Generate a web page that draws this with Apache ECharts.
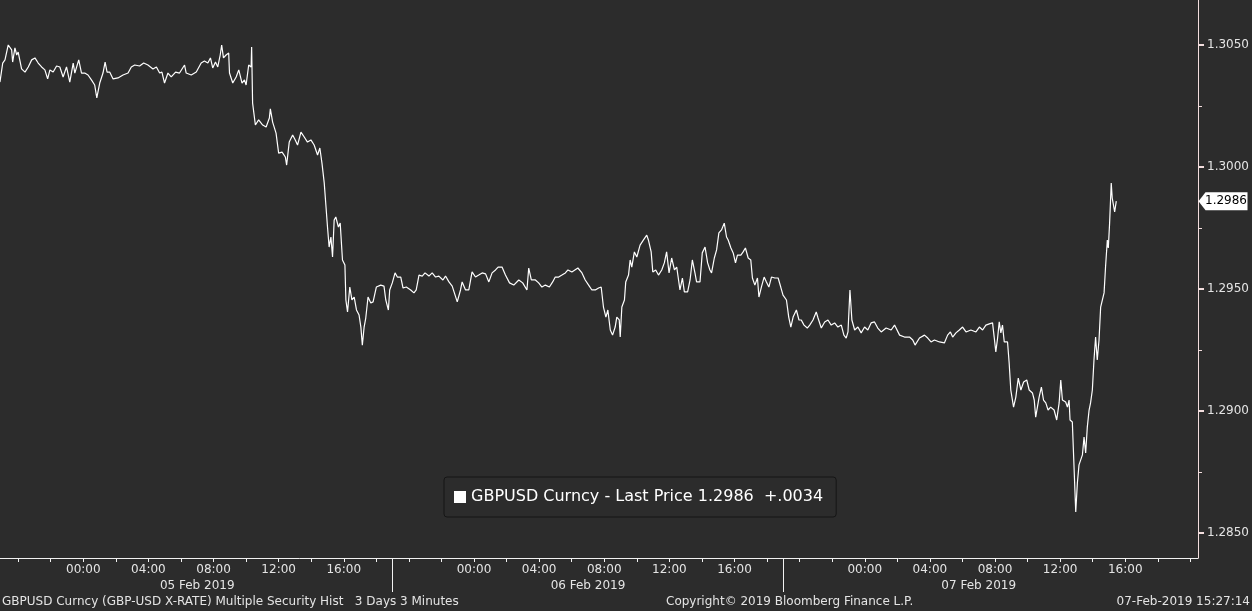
<!DOCTYPE html>
<html><head><meta charset="utf-8">
<script src="https://cdn.jsdelivr.net/npm/echarts@6/dist/echarts.min.js"></script>
<style>html,body{margin:0;padding:0;background:#2c2c2c;overflow:hidden}#c{width:1252px;height:611px}</style>
</head><body><div id="c"></div>
<script>
// hours relative to 05 Feb 2019 00:00, GBPUSD last price (3-minute bars, traced)
const feb05 = [
[-5.12,1.30348],[-4.95,1.30426],[-4.81,1.30439],[-4.61,1.30500],[-4.40,1.30480],[-4.34,1.30430],[-4.20,1.30488],[-4.09,1.30459],[-4.00,1.30471],[-3.89,1.30471],
[-3.79,1.30402],[-3.58,1.30389],[-3.38,1.30410],[-3.17,1.30439],[-2.97,1.30447],[-2.77,1.30426],[-2.56,1.30410],[-2.36,1.30398],[-2.19,1.30361],[-2.05,1.30398],
[-1.85,1.30389],[-1.64,1.30414],[-1.44,1.30410],[-1.24,1.30369],[-1.03,1.30410],[-0.83,1.30348],[-0.62,1.30426],[-0.52,1.30385],[-0.28,1.30439],[-0.11,1.30385],
[0.09,1.30385],[0.29,1.30377],[0.50,1.30357],[0.70,1.30336],[0.83,1.30283],[1.01,1.30344],[1.21,1.30385],[1.34,1.30430],[1.46,1.30389],[1.62,1.30389],
[1.83,1.30361],[2.13,1.30365],[2.44,1.30377],[2.75,1.30385],[2.95,1.30410],[3.16,1.30418],[3.46,1.30414],[3.71,1.30426],[3.97,1.30418],[4.28,1.30402],
[4.49,1.30410],[4.69,1.30385],[4.83,1.30389],[4.99,1.30344],[5.20,1.30385],[5.40,1.30369],[5.67,1.30389],[5.91,1.30385],[6.22,1.30418],[6.32,1.30385],
[6.63,1.30377],[6.94,1.30389],[7.24,1.30426],[7.44,1.30434],[7.65,1.30426],[7.81,1.30447],[7.95,1.30406],[8.12,1.30430],[8.26,1.30410],[8.41,1.30459],
[8.50,1.30500],[8.61,1.30447],[8.77,1.30459],[8.93,1.30467],[8.98,1.30385],[9.18,1.30344],[9.39,1.30369],[9.55,1.30398],[9.75,1.30344],[9.90,1.30357],
[10.00,1.30336],[10.16,1.30418],[10.31,1.30410],[10.34,1.30492],[10.40,1.30262],[10.57,1.30172],[10.77,1.30193],[11.02,1.30172],[11.23,1.30164],[11.43,1.30201],
[11.49,1.30238],[11.63,1.30184],[11.84,1.30139],[12.00,1.30057],[12.21,1.30061],[12.41,1.30041],[12.49,1.30008],[12.65,1.30102],[12.86,1.30131],[13.02,1.30111],
[13.16,1.30090],[13.37,1.30143],[13.57,1.30123],[13.77,1.30102],[13.98,1.30111],[14.18,1.30090],[14.39,1.30049],[14.53,1.30078],[14.66,1.30016],[14.80,1.29934],
[14.90,1.29844],[15.00,1.29754],[15.10,1.29672],[15.21,1.29713],[15.31,1.29631],[15.41,1.29783],[15.51,1.29795],[15.67,1.29754],[15.78,1.29770],[15.92,1.29619],
[16.07,1.29598],[16.13,1.29455],[16.23,1.29406],[16.37,1.29508],[16.50,1.29455],[16.64,1.29467],[16.78,1.29414],[16.94,1.29393],[17.05,1.29344],[17.14,1.29270],
[17.25,1.29344],[17.35,1.29381],[17.49,1.29467],[17.66,1.29443],[17.80,1.29447],[18.00,1.29508],[18.27,1.29516],[18.47,1.29512],[18.58,1.29455],[18.74,1.29414],
[18.82,1.29496]
];
const feb06 = [
[18.98,1.29525],[19.15,1.29566],[19.29,1.29549],[19.50,1.29549],[19.64,1.29504],[19.84,1.29508],[20.11,1.29496],[20.31,1.29484],[20.45,1.29496],[20.62,1.29557],
[20.82,1.29553],[20.99,1.29566],[21.23,1.29553],[21.43,1.29566],[21.64,1.29549],[21.84,1.29553],[22.09,1.29537],[22.25,1.29553],[22.46,1.29529],[22.66,1.29512],
[22.97,1.29447],[23.17,1.29496],[23.27,1.29529],[23.48,1.29496],[23.68,1.29496],[23.88,1.29570],[24.09,1.29549],[24.29,1.29557],[24.50,1.29566],[24.71,1.29562],
[24.91,1.29529],[25.11,1.29566],[25.32,1.29578],[25.48,1.29590],[25.72,1.29590],[25.93,1.29557],[26.18,1.29525],[26.44,1.29516],[26.75,1.29537],[26.99,1.29525],
[27.25,1.29496],[27.36,1.29586],[27.52,1.29537],[27.77,1.29537],[27.97,1.29525],[28.17,1.29508],[28.38,1.29516],[28.63,1.29508],[28.83,1.29529],[28.99,1.29549],
[29.20,1.29549],[29.40,1.29557],[29.61,1.29566],[29.77,1.29578],[30.01,1.29570],[30.38,1.29586],[30.63,1.29566],[30.83,1.29537],[31.04,1.29516],[31.24,1.29496],
[31.45,1.29496],[31.65,1.29504],[31.81,1.29508],[31.95,1.29426],[32.10,1.29385],[32.22,1.29414],[32.37,1.29332],[32.51,1.29311],[32.67,1.29344],[32.77,1.29385],
[32.92,1.29373],[32.98,1.29303],[33.08,1.29426],[33.24,1.29455],[33.32,1.29529],[33.49,1.29557],[33.59,1.29619],[33.69,1.29590],[33.85,1.29652],[34.00,1.29631],
[34.20,1.29680],[34.41,1.29701],[34.61,1.29721],[34.71,1.29701],[34.88,1.29652],[34.98,1.29570],[35.16,1.29578],[35.33,1.29557],[35.53,1.29578],[35.69,1.29607],
[35.83,1.29652],[35.98,1.29566],[36.14,1.29627],[36.31,1.29578],[36.45,1.29590],[36.65,1.29496],[36.80,1.29545],[36.92,1.29488],[37.12,1.29488],[37.27,1.29537],
[37.41,1.29619],[37.57,1.29566],[37.67,1.29529],[37.88,1.29529],[38.02,1.29648],[38.19,1.29672],[38.35,1.29607],[38.49,1.29578],[38.59,1.29566],[38.76,1.29627],
[38.90,1.29660],[39.04,1.29730],[39.20,1.29742],[39.37,1.29770],[39.51,1.29713],[39.61,1.29701],[39.78,1.29668],[39.92,1.29648],[40.06,1.29607],[40.18,1.29639],
[40.39,1.29639],[40.53,1.29652],[40.67,1.29668],[40.84,1.29627],[41.00,1.29619],[41.10,1.29545],[41.25,1.29516],[41.41,1.29545],[41.50,1.29467],[41.65,1.29508],
[41.82,1.29549],[41.96,1.29529],[42.11,1.29508],[42.27,1.29549],[42.48,1.29545],[42.68,1.29545],[42.84,1.29508],[42.98,1.29475]
];
const feb07 = [
[43.19,1.29455],[43.33,1.29385],[43.46,1.29344],[43.60,1.29385],[43.80,1.29414],[43.96,1.29373],[44.10,1.29373],[44.27,1.29352],[44.47,1.29340],[44.62,1.29352],
[44.82,1.29373],[45.02,1.29406],[45.13,1.29381],[45.33,1.29340],[45.54,1.29365],[45.74,1.29373],[45.94,1.29352],[46.15,1.29361],[46.35,1.29344],[46.56,1.29352],
[46.72,1.29311],[46.86,1.29299],[46.97,1.29324],[47.09,1.29496],[47.21,1.29373],[47.38,1.29332],[47.58,1.29344],[47.78,1.29320],[47.99,1.29344],[48.19,1.29332],
[48.39,1.29361],[48.60,1.29365],[48.80,1.29340],[49.01,1.29324],[49.31,1.29340],[49.62,1.29332],[49.83,1.29352],[50.14,1.29311],[50.44,1.29303],[50.75,1.29303],
[50.95,1.29291],[51.09,1.29270],[51.36,1.29299],[51.67,1.29311],[51.87,1.29299],[52.07,1.29283],[52.28,1.29291],[52.59,1.29283],[52.89,1.29279],[53.09,1.29311],
[53.26,1.29324],[53.40,1.29303],[53.60,1.29320],[53.81,1.29332],[54.01,1.29344],[54.22,1.29324],[54.52,1.29332],[54.83,1.29324],[55.04,1.29344],[55.24,1.29332],
[55.44,1.29352],[55.65,1.29357],[55.85,1.29361],[55.95,1.29303],[56.05,1.29242],[56.16,1.29299],[56.26,1.29365],[56.36,1.29320],[56.46,1.29352],[56.57,1.29283],
[56.77,1.29283],[56.87,1.29197],[56.97,1.29086],[57.14,1.29016],[57.28,1.29057],[57.43,1.29135],[57.59,1.29086],[57.76,1.29119],[57.95,1.29127],[58.10,1.29086],
[58.30,1.29074],[58.41,1.29045],[58.50,1.28975],[58.71,1.29057],[58.85,1.29098],[58.98,1.29045],[59.12,1.29033],[59.26,1.29004],[59.42,1.29016],[59.63,1.29004],
[59.79,1.28963],[59.94,1.29033],[60.04,1.29127],[60.14,1.29045],[60.34,1.29037],[60.45,1.29016],[60.55,1.29045],[60.61,1.28963],[60.75,1.28955],[60.86,1.28951],
[60.96,1.28586],[61.06,1.28705],[61.16,1.28779],[61.26,1.28787],[61.37,1.28820],[61.47,1.28893],[61.57,1.28828],[61.67,1.28934],[61.78,1.29004],[61.87,1.29033],
[61.98,1.29086],[62.08,1.29209],[62.18,1.29303],[62.28,1.29209],[62.39,1.29291],[62.49,1.29426],[62.59,1.29434],[62.70,1.29484],[62.79,1.29590],[62.90,1.29701],
[62.96,1.29668],[63.04,1.29770],[63.14,1.29934],[63.20,1.29873],[63.31,1.29865],[63.35,1.29816],[63.45,1.29860]
];
const seriesName = 'GBPUSD Curncy';
const lastPrice = 1.2986;
const changeText = '+.0034';
const priceTicks = [1.2850, 1.2900, 1.2950, 1.3000, 1.3050];
const priceMinorTicks = [1.2850, 1.2875, 1.2900, 1.2925, 1.2950, 1.2975, 1.3000, 1.3025, 1.3050];
const hourTicks = [-4,-2,0,2,4,6,8,10,12,14,16,18,20,22,24,26,28,30,32,34,36,38,40,42,44,46,48,50,52,54,56,58,60,62,64,66,68];
const hourLabels = [0,4,8,12,16,24,28,32,36,40,48,52,56,60,64];
const dayLabels = ['05 Feb 2019', '06 Feb 2019', '07 Feb 2019'];
const dayLabelHours = [7, 31, 55];
const daySeparatorHours = [19, 43];
const footerLeft = 'GBPUSD Curncy (GBP-USD X-RATE) Multiple Security Hist   3 Days 3 Minutes';
const footerCenter = 'Copyright\u00a9 2019 Bloomberg Finance L.P.';
const footerRight = '07-Feb-2019 15:27:14';

const X_MIN = -5.116, X_MAX = 68.47;
const Y_MIN = 1.283975, Y_MAX = 1.306844;
const FONT = 'DejaVu Sans';
const TXT = '#e4e4e4';

const data = feb05.concat(feb06, feb07);
const chart = echarts.init(document.getElementById('c'), null, {renderer: 'canvas'});
const hh = v => { const h = ((Math.round(v) % 24) + 24) % 24; return (h < 10 ? '0' : '') + h + ':00'; };

chart.setOption({
  backgroundColor: '#2c2c2c',
  animation: false,
  grid: {left: 0, right: 51, top: 0, bottom: 53, containLabel: false},
  title: [
    {text: footerLeft, left: 2, top: 596, padding: 0, textStyle: {fontFamily: FONT, fontSize: 12, fontWeight: 'normal', color: TXT}},
    {text: footerCenter, left: 666, top: 596, padding: 0, textStyle: {fontFamily: FONT, fontSize: 12, fontWeight: 'normal', color: TXT}},
    {text: footerRight, right: 2, top: 596, padding: 0, textStyle: {fontFamily: FONT, fontSize: 12, fontWeight: 'normal', color: TXT}}
  ],
  legend: {
    left: 444, top: 477, data: [seriesName], icon: 'rect', itemWidth: 12, itemHeight: 12,
    selectedMode: false, padding: [12, 13, 12, 10],
    backgroundColor: '#2c2c2c', borderColor: '#151515', borderWidth: 1, borderRadius: 3,
    formatter: n => n + ' - Last Price ' + lastPrice.toFixed(4) + '  ' + changeText,
    textStyle: {fontFamily: FONT, fontSize: 16, color: '#ffffff'}
  },
  xAxis: [
    {type: 'value', min: X_MIN, max: X_MAX, position: 'bottom',
     axisLine: {show: true, onZero: false, lineStyle: {color: '#f2f2f2', width: 1}},
     axisTick: {show: true, customValues: hourTicks, length: 4, lineStyle: {color: '#f2f2f2'}},
     axisLabel: {show: true, customValues: hourLabels, formatter: hh, margin: 6, color: TXT, fontFamily: FONT, fontSize: 12},
     splitLine: {show: false}},
    {type: 'value', min: X_MIN, max: X_MAX, position: 'bottom',
     axisLine: {show: false, onZero: false},
     axisTick: {show: true, customValues: daySeparatorHours, length: 34, lineStyle: {color: '#f2f2f2'}},
     axisLabel: {show: true, customValues: dayLabelHours, formatter: v => dayLabels[dayLabelHours.indexOf(Math.round(v))], margin: 22, color: TXT, fontFamily: FONT, fontSize: 12},
     splitLine: {show: false}}
  ],
  yAxis: [
    {type: 'value', min: Y_MIN, max: Y_MAX, position: 'right',
     axisLine: {show: true, onZero: false, lineStyle: {color: '#f3dede', width: 1}},
     axisTick: {show: true, customValues: priceMinorTicks, length: 4, lineStyle: {color: '#f3dede'}},
     axisLabel: {show: false}, splitLine: {show: false}},
    {type: 'value', min: Y_MIN, max: Y_MAX, position: 'right',
     axisLine: {show: false, onZero: false},
     axisTick: {show: true, customValues: priceTicks, length: 6, lineStyle: {color: '#f3dede', width: 2}},
     axisLabel: {show: true, customValues: priceTicks, formatter: v => v.toFixed(4), margin: 9, color: TXT, fontFamily: FONT, fontSize: 12},
     splitLine: {show: false}}
  ],
  series: [{
    name: seriesName, type: 'line', xAxisIndex: 0, yAxisIndex: 0, data: data,
    showSymbol: false, symbol: 'none', color: '#ffffff',
    lineStyle: {color: '#ffffff', width: 1.2},
    markPoint: {
      silent: true, animation: false,
      symbol: 'path://M0,9 L7,0 L49,0 L49,18 L7,18 Z', symbolSize: [49, 18], symbolOffset: [25, 0],
      itemStyle: {color: '#ffffff'},
      label: {show: true, position: 'inside', offset: [3, 0], color: '#000000', fontFamily: FONT, fontSize: 12, formatter: () => lastPrice.toFixed(4)},
      data: [{coord: [X_MAX, lastPrice], value: lastPrice}]
    }
  }]
});
</script></body></html>
